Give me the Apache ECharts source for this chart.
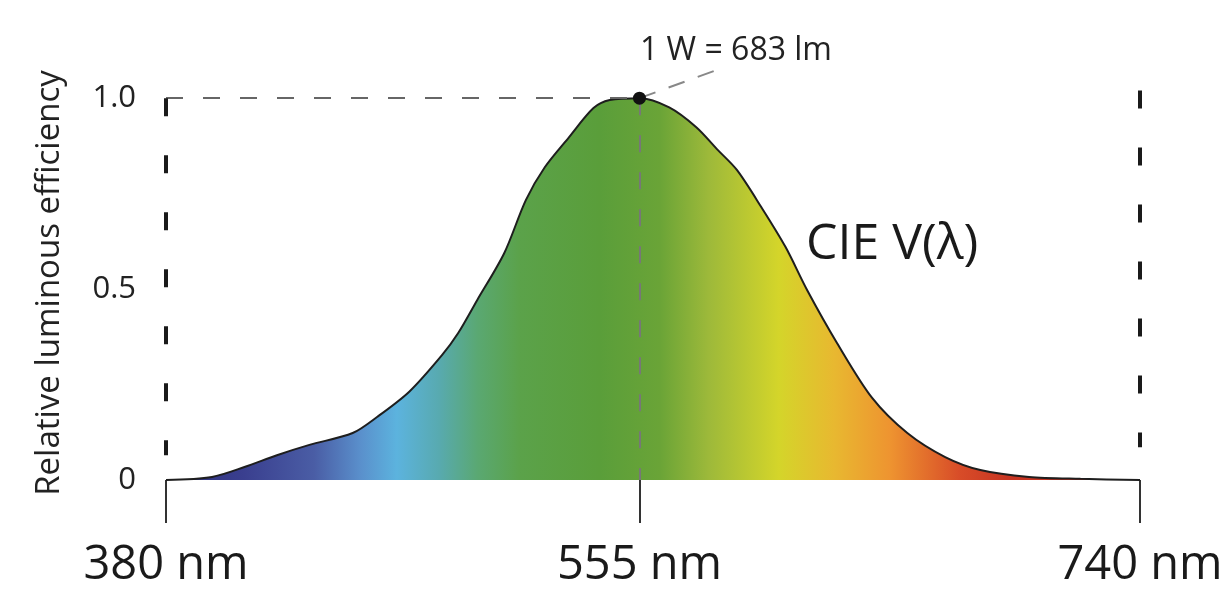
<!DOCTYPE html>
<html>
<head>
<meta charset="utf-8">
<script src="https://cdn.jsdelivr.net/npm/echarts@6/dist/echarts.min.js"></script>
<style>
html,body{margin:0;padding:0;background:#fff;}
#chart{width:1229px;height:589px;}
</style>
</head>
<body>
<div id="chart"></div>
<script>
// values
var wavelengths=[380,397,409,421,433,449,458,470,482,488,495,505,513,520,529,538,544,555,566,576,584,591,600,609,617,628,641,654,668,681,699,718,740];
var efficiency=[0,0.008,0.034,0.065,0.092,0.123,0.165,0.232,0.327,0.385,0.471,0.594,0.733,0.819,0.898,0.974,0.995,1.0,0.976,0.924,0.864,0.812,0.715,0.610,0.497,0.359,0.215,0.123,0.060,0.026,0.008,0.003,0];
var xTicks=[380,555,740];
var yTicks=[0,0.5,1.0];
var peak=[555,1.0];
var peakText="1 W = 683 lm";
var curveName="CIE V(λ)";

var spectrum=[
	{offset:0,color:"#2d2f7a"},
	{offset:0.08,color:"#3a3f8f"},
	{offset:0.152,color:"#4a5da5"},
	{offset:0.2,color:"#5a90cc"},
	{offset:0.237,color:"#5cb3de"},
	{offset:0.28,color:"#58aab0"},
	{offset:0.32,color:"#5aa872"},
	{offset:0.363,color:"#5ba24a"},
	{offset:0.445,color:"#5a9e3a"},
	{offset:0.507,color:"#6aa437"},
	{offset:0.557,color:"#9db93a"},
	{offset:0.629,color:"#d4d52a"},
	{offset:0.686,color:"#e8b830"},
	{offset:0.743,color:"#ee9430"},
	{offset:0.815,color:"#d84c28"},
	{offset:0.864,color:"#c83522"},
	{offset:1,color:"#c03020"}
];

var points=wavelengths.map(function(w,i){return [w,efficiency[i]];});

var myChart=echarts.init(document.getElementById("chart"));
var option={
	backgroundColor:"#fff",
	animation:false,
	// y runs to 1.1 so the guide lines above 1.0 stay inside the grid
	grid:{left:166,right:89,top:60,bottom:109},
	xAxis:{
		type:"value",min:380,max:740,
		axisLine:{show:false},
		splitLine:{show:false},
		axisTick:{show:true,customValues:xTicks,length:43,lineStyle:{color:"#333",width:2}},
		axisLabel:{customValues:xTicks,margin:62,fontSize:47,color:"#1a1a1a",fontFamily:"Open Sans",
			formatter:function(v){return v+" nm";}}
	},
	yAxis:{
		type:"value",min:0,max:1.1,
		name:"Relative luminous efficiency",nameLocation:"middle",nameGap:100,
		nameTextStyle:{fontSize:33,color:"#222",fontFamily:"Open Sans",padding:[0,26,0,0]},
		axisLine:{show:false},axisTick:{show:false},splitLine:{show:false},
		axisLabel:{customValues:yTicks,margin:30,fontSize:31,color:"#222",fontFamily:"Open Sans",
			formatter:function(v){return v===0?"0":v.toFixed(1);}}
	},
	series:[{
		type:"line",
		data:points,
		smooth:0.3,
		symbol:"none",
		clip:false,
		lineStyle:{color:"#1e1e1e",width:2},
		areaStyle:{opacity:1,color:new echarts.graphic.LinearGradient(0,0,1,0,spectrum)},
		z:2,
		markLine:{
			silent:true,
			symbol:["none","none"],
			label:{show:false},
			data:[
				[{coord:[380,1],lineStyle:{color:"#666",width:2,type:[17,20]}},{coord:[555,1]}],
				[{coord:[555,1],lineStyle:{color:"#777",width:2,type:[17,20]}},{coord:[555,0]}],
				[{coord:[555,1],lineStyle:{color:"#888",width:2,type:[17,14]}},{coord:[584,1.075]}],
				[{coord:[380,1],lineStyle:{color:"#1a1a1a",width:4,type:[18,39]}},{coord:[380,0.065]}],
				[{coord:[740,1.02],lineStyle:{color:"#1a1a1a",width:4,type:[18,39]}},{coord:[740,0.086]}]
			]
		},
		markPoint:{
			silent:true,
			symbol:"circle",symbolSize:13,
			itemStyle:{color:"#111"},
			label:{show:false},
			data:[{coord:peak}]
		}
	}],
	graphic:[
		{type:"text",left:640,top:35,style:{text:peakText,fontSize:32,fill:"#222",fontFamily:"Open Sans"}},
		{type:"text",left:806,top:220,style:{text:curveName,fontSize:50,fill:"#1a1a1a",fontFamily:"Open Sans"}}
	]
};
myChart.setOption(option);
</script>
</body>
</html>
